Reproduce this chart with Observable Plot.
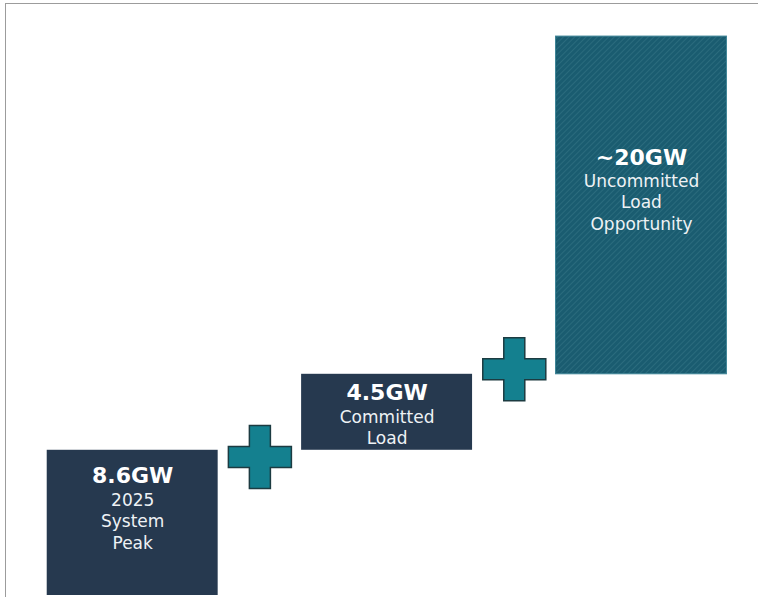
<!DOCTYPE html>
<html>
<head>
<meta charset="utf-8">
<script src="https://cdn.jsdelivr.net/npm/d3@7"></script>
<script src="https://cdn.jsdelivr.net/npm/@observablehq/plot@0.6"></script>
<style>
  html, body { margin: 0; padding: 0; background: #fff; }
  #wrap { position: relative; width: 758px; height: 597px; overflow: hidden; }
  #frame { position: absolute; left: 5px; top: 3px; width: 760px; height: 600px;
           border-top: 1.5px solid #9c9c9c; border-left: 1.5px solid #9c9c9c; pointer-events: none; }
  svg { display: block; }
</style>
</head>
<body>
<div id="wrap"><div id="frame"></div></div>
<script>
// Data
const headlines = ["8.6GW", "4.5GW", "~20GW"];
const descriptions = [["2025", "System", "Peak"], ["Committed", "Load"], ["Uncommitted", "Load", "Opportunity"]];
const values = [8.6, 4.5, 20];
const kinds = ["base", "committed", "opportunity"];
const plusLevels = [8.2, 13.4]; // vertical position of the "+" signs (GW)

// waterfall table
let acc = 0;
const bars = values.map((v, i) => {
  const row = {i, y1: acc, y2: acc + v, kind: kinds[i], head: headlines[i], desc: descriptions[i]};
  acc += v;
  return row;
});
const pluses = plusLevels.map((y, k) => ({x: k + 0.5, y}));
const half = 0.336;

// label offsets from the top of each bar (pixels) — layout only
const headOffset = [26, 19, 121];

const labelMarks = bars.flatMap((b, k) => [
  Plot.text([b], {
    x: "i", y: "y2", text: "head", dy: headOffset[k],
    fill: "#ffffff", fontSize: 22, fontWeight: "bold", lineAnchor: "middle"
  }),
  Plot.text([b], {
    x: "i", y: "y2", text: d => d.desc.join("\n"), dy: headOffset[k] + 14,
    lineAnchor: "top", lineHeight: 1.27, fill: "#eef2f5", fontSize: 17
  })
]);

const chart = Plot.plot({
  width: 758,
  height: 597,
  marginLeft: 5,
  marginRight: 0,
  marginTop: 4,
  marginBottom: 2,
  x: {domain: [-0.5, 2.46], axis: null},
  y: {domain: [0, 35], axis: null},
  style: {background: "transparent", fontFamily: "DejaVu Sans, Verdana, sans-serif"},
  marks: [
    Plot.rect(bars, {
      x1: d => d.i - half, x2: d => d.i + half, y1: "y1", y2: "y2",
      fill: d => d.kind === "opportunity" ? "url(#hatch)" : "#26394f",
      stroke: d => d.kind === "opportunity" ? "#3f8597" : "none",
      strokeWidth: 1
    }),
    Plot.dot(pluses, {
      x: "x", y: "y", symbol: "cross", r: 26.5,
      fill: "#14808f", stroke: "#1c3b41", strokeWidth: 1.5
    }),
    ...labelMarks
  ]
});

// hatch pattern for the opportunity bar
const ns = "http://www.w3.org/2000/svg";
const defs = document.createElementNS(ns, "defs");
defs.innerHTML = `
  <pattern id="hatch" patternUnits="userSpaceOnUse" width="4" height="4" patternTransform="rotate(45)">
    <rect width="4" height="4" fill="#1a5c70"></rect>
    <rect width="1" height="4" fill="#2a6b7d"></rect>
  </pattern>`;
chart.insertBefore(defs, chart.firstChild);

document.getElementById("wrap").insertBefore(chart, document.getElementById("frame"));
</script>
</body>
</html>
